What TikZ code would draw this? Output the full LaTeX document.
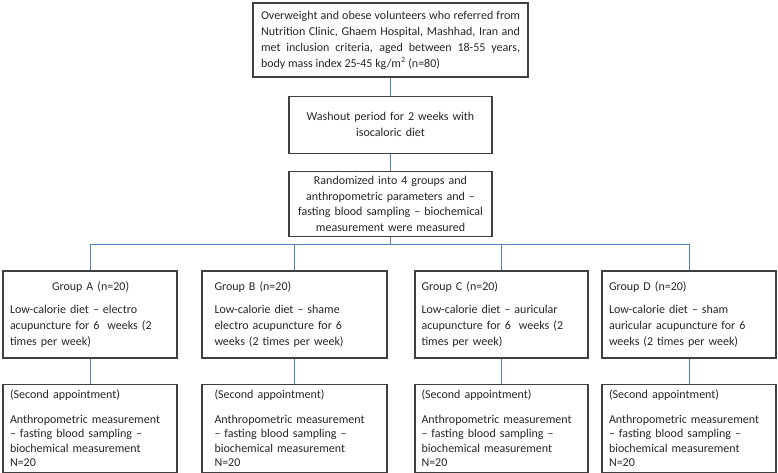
\documentclass[tikz,border=0pt]{standalone}
\usepackage{fontspec}
\setmainfont{Carlito}
\usetikzlibrary{positioning}
\definecolor{boxgray}{RGB}{64,64,64}
\definecolor{linkblue}{RGB}{79,129,189}
\newcommand{\spreadline}[1]{\makebox[\linewidth][s]{#1}}
\newcommand{\nohyph}{\hyphenpenalty=10000\relax}

\begin{document}
\begin{tikzpicture}[x=1pt,y=-1pt,
box/.style={draw=boxgray, line width=1.2pt, inner sep=0pt, text=black!85, font=\fontsize{12}{16}\selectfont\nohyph},
grp/.style={box, minimum height=87, text width=160, align=left},
second/.style={box, minimum height=88, text width=160, align=left, font=\fontsize{12}{14.5}\selectfont\nohyph},
link/.style={draw=linkblue, line width=0.9pt}]
\useasboundingbox (0,0) rectangle (778,473);
% enrolment and washout
\node[box, minimum width=275, minimum height=74, text width=259, align=justify] (recruit) at (390.5,40) {%
\spreadline{Overweight and obese volunteers who referred from}\\
\spreadline{Nutrition Clinic, Ghaem Hospital, Mashhad, Iran and}\\
\spreadline{met inclusion criteria, aged between 18-55 years,}\\
body mass index 25-45 kg/m\textsuperscript{2} (n=80)};
\node[box, minimum width=203, minimum height=57, text width=190, align=center, below=18pt of recruit] (washout) {Washout period for 2 weeks with\\isocaloric diet};
\node[box, minimum width=203, minimum height=65, text width=195, align=center, below=17pt of washout, font=\fontsize{12}{15.5}\selectfont\nohyph] (random) {Randomized into 4 groups and\\anthropometric parameters and --\\fasting blood sampling -- biochemical\\measurement were measured};
\coordinate (bus) at (390.5,244);
% the four groups
\node[grp, minimum width=174] (grpA) at (90,314.5) {\hspace*{42pt}Group A (n=20)\\[7pt]Low-calorie diet -- electro\\acupuncture for 6 ~weeks (2\\times per week)};
\node[grp, minimum width=185] (grpB) at (294.5,314.5) {Group B (n=20)\\[7pt]Low-calorie diet -- shame\\electro acupuncture for 6\\weeks (2 times per week)};
\node[grp, minimum width=173] (grpC) at (501.5,314.5) {Group C (n=20)\\[7pt]Low-calorie diet -- auricular\\acupuncture for 6 ~weeks (2\\times per week)};
\node[grp, minimum width=174] (grpD) at (689,314.5) {Group D (n=20)\\[7pt]Low-calorie diet -- sham\\auricular acupuncture for 6\\weeks (2 times per week)};
% second appointment
\foreach \g/\w in {A/174,B/185,C/173,D/174}
  \node[second, minimum width=\w, below=25pt of grp\g] (sec\g) {(Second appointment)\\[10pt]Anthropometric measurement\\-- fasting blood sampling --\\biochemical measurement\\N=20};
% connectors
\draw[link] (recruit) -- (washout);
\draw[link] (washout) -- (random);
\draw[link] (random) -- (bus);
\foreach \g in {A,B,C,D} {
  \draw[link] (bus) -| (grp\g);
  \draw[link] (grp\g) -- (sec\g);
}
\end{tikzpicture}
\end{document}
